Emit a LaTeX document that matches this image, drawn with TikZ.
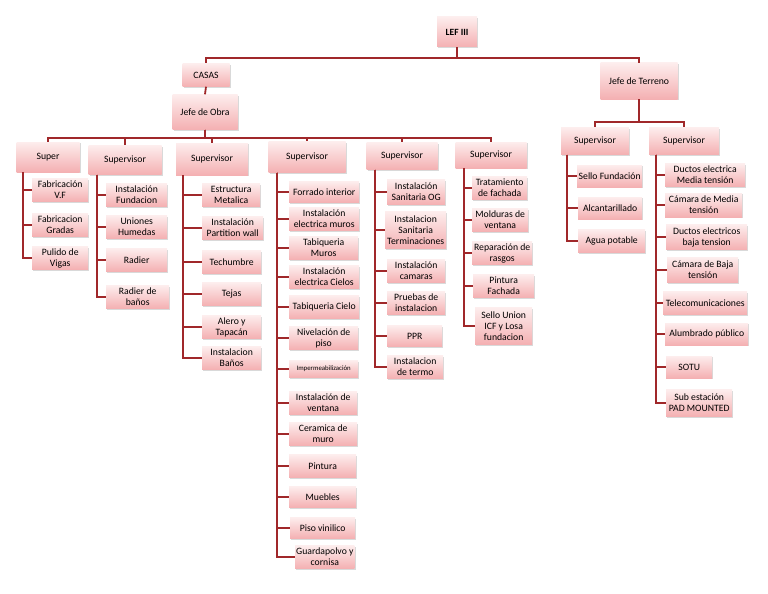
\documentclass[tikz,border=0pt]{standalone}
\usepackage{fontspec}
\setmainfont{Carlito}
\usetikzlibrary{shadows}
\definecolor{linkred}{RGB}{160,40,42}
\definecolor{boxtop}{RGB}{253,237,237}
\definecolor{boxbot}{RGB}{244,176,178}
\tikzset{
  box/.style={rectangle, top color=boxtop, bottom color=boxbot, align=center,
    font=\fontsize{9.7}{11}\selectfont, text=black, inner sep=1pt, minimum height=23,
    drop shadow={shadow xshift=1.2pt, shadow yshift=-1.2pt, opacity=0.3}},
  item/.style={box, anchor=west},
  conn/.style={draw=linkred, line width=1.8pt},
}
\begin{document}
\begin{tikzpicture}[x=1pt,y=-1pt]
  \useasboundingbox (0,0) rectangle (768,594);
  % top of the tree
  \node[box, minimum width=40, minimum height=30, font=\bfseries\fontsize{9.5}{11}\selectfont] (lef) at (457,32) {LEF III};
  \node[box, minimum width=47] (casas) at (206,75) {CASAS};
  \node[box, minimum width=65, minimum height=35] (obra) at (205,112) {Jefe de Obra};
  \node[box, minimum width=77, minimum height=36] (terreno) at (639,81) {Jefe de Terreno};
  % supervisors
  \node[box, minimum width=63, minimum height=30] (sup1) at (48,157) {Super};
  \node[box, minimum width=73, minimum height=29] (sup2) at (125,160) {Supervisor};
  \node[box, minimum width=72, minimum height=32] (sup3) at (212,159) {Supervisor};
  \node[box, minimum width=77, minimum height=31] (sup4) at (307,157) {Supervisor};
  \node[box, minimum width=71, minimum height=27] (sup5) at (402,156) {Supervisor};
  \node[box, minimum width=71, minimum height=26] (sup6) at (491,155) {Supervisor};
  \node[box, minimum width=68, minimum height=27] (sup7) at (595,141) {Supervisor};
  \node[box, minimum width=70, minimum height=27] (sup8) at (684,141) {Supervisor};
  % column 1
  \node[item, minimum width=56] (c11) at (32,190) {Fabricación\\V.F};
  \node[item, minimum width=56] (c12) at (32,225) {Fabricacion\\Gradas};
  \node[item, minimum width=56] (c13) at (32,258) {Pulido de\\Vigas};
  % column 2
  \node[item, minimum width=61] (c21) at (106,195) {Instalación\\Fundacion};
  \node[item, minimum width=61] (c22) at (106,227) {Uniones\\Humedas};
  \node[item, minimum width=61] (c23) at (106,260) {Radier};
  \node[item, minimum width=63] (c24) at (106,297) {Radier de\\baños};
  % column 3
  \node[item, minimum width=58] (c31) at (202,195) {Estructura\\Metalica};
  \node[item, minimum width=61] (c32) at (202,228) {Instalación\\Partition wall};
  \node[item, minimum width=59] (c33) at (202,262) {Techumbre};
  \node[item, minimum width=59] (c34) at (202,294) {Tejas};
  \node[item, minimum width=59] (c35) at (202,327) {Alero y\\Tapacán};
  \node[item, minimum width=59] (c36) at (202,358) {Instalacion\\Baños};
  % column 4
  \node[item, minimum width=70, minimum height=21] (c41) at (289,192) {Forrado interior};
  \node[item, minimum width=70] (c42) at (289,219) {Instalación\\electrica muros};
  \node[item, minimum width=69] (c43) at (289,248) {Tabiqueria\\Muros};
  \node[item, minimum width=70] (c44) at (289,277) {Instalación\\electrica Cielos};
  \node[item, minimum width=70] (c45) at (289,307) {Tabiqueria Cielo};
  \node[item, minimum width=69] (c46) at (289,338) {Nivelación de\\piso};
  \node[item, minimum width=69, minimum height=17, font=\fontsize{6.8}{8}\selectfont] (c47) at (289,369) {Impermeabilización};
  \node[item, minimum width=68] (c48) at (289,403) {Instalación de\\ventana};
  \node[item, minimum width=68] (c49) at (289,434) {Ceramica de\\muro};
  \node[item, minimum width=67] (c410) at (289,466) {Pintura};
  \node[item, minimum width=67, minimum height=21] (c411) at (289,497) {Muebles};
  \node[item, minimum width=65, minimum height=21] (c412) at (290,528) {Piso vinilico};
  \node[item, minimum width=59] (c413) at (295,557) {Guardapolvo y\\cornisa};
  % column 5
  \node[item, minimum width=58, minimum height=25] (c51) at (387,192) {Instalación\\Sanitaria OG};
  \node[item, minimum width=61, minimum height=37] (c52) at (385,230) {Instalacion\\Sanitaria\\Terminaciones};
  \node[item, minimum width=58] (c53) at (387,271) {Instalación\\camaras};
  \node[item, minimum width=58] (c54) at (387,303) {Pruebas de\\instalacion};
  \node[item, minimum width=55, minimum height=21] (c55) at (387,336) {PPR};
  \node[item, minimum width=56] (c56) at (387,367) {Instalacion\\de termo};
  % column 6
  \node[item, minimum width=55] (c61) at (472,188) {Tratamiento\\de fachada};
  \node[item, minimum width=56] (c62) at (472,220) {Molduras de\\ventana};
  \node[item, minimum width=60] (c63) at (472,253) {Reparación de\\rasgos};
  \node[item, minimum width=61] (c64) at (473,286) {Pintura\\Fachada};
  \node[item, minimum width=57, minimum height=37] (c65) at (475,326) {Sello Union\\ICF y Losa\\fundacion};
  % column 7
  \node[item, minimum width=65, minimum height=22] (c71) at (577,176) {Sello Fundación};
  \node[item, minimum width=64, minimum height=22] (c72) at (578,208) {Alcantarillado};
  \node[item, minimum width=67] (c73) at (578,241) {Agua potable};
  % column 8
  \node[item, minimum width=80] (c81) at (665,175) {Ductos electrica\\Media tensión};
  \node[item, minimum width=77, minimum height=24] (c82) at (665,205) {Cámara de Media\\tensión};
  \node[item, minimum width=81, minimum height=25] (c83) at (666,237) {Ductos electricos\\baja tension};
  \node[item, minimum width=71, minimum height=25] (c84) at (667,270) {Cámara de Baja\\tensión};
  \node[item, minimum width=84] (c85) at (663,303) {Telecomunicaciones};
  \node[item, minimum width=83, minimum height=22] (c86) at (665,334) {Alumbrado público};
  \node[item, minimum width=46, minimum height=22] (c87) at (666,367) {SOTU};
  \node[item, minimum width=66, minimum height=27] (c88) at (666,403) {Sub estación\\PAD MOUNTED};
  % connectors
  \draw[conn] (lef.south) -- ++(0,11) -| (casas.north);
  \draw[conn] (lef.south) -- ++(0,11) -| (terreno.north);
  \draw[conn] (casas.south) -- (obra.north);
  \foreach \s in {sup1,sup2,sup3,sup4,sup5,sup6}
    \draw[conn] (obra.south) -- ++(0,8) -| (\s.north);
  \foreach \s in {sup7,sup8}
    \draw[conn] (terreno.south) -- ++(0,23) -| (\s.north);
  \foreach \i in {1,2,3} \draw[conn] ([xshift=7pt]sup1.south west) |- (c1\i.west);
  \foreach \i in {1,...,4} \draw[conn] ([xshift=9pt]sup2.south west) |- (c2\i.west);
  \foreach \i in {1,...,6} \draw[conn] ([xshift=7pt]sup3.south west) |- (c3\i.west);
  \foreach \i in {1,...,13} \draw[conn] ([xshift=8.5pt]sup4.south west) |- (c4\i.west);
  \foreach \i in {1,...,6} \draw[conn] ([xshift=8.5pt]sup5.south west) |- (c5\i.west);
  \foreach \i in {1,...,5} \draw[conn] ([xshift=8.5pt]sup6.south west) |- (c6\i.west);
  \foreach \i in {1,2,3} \draw[conn] ([xshift=6pt]sup7.south west) |- (c7\i.west);
  \foreach \i in {1,...,8} \draw[conn] ([xshift=7pt]sup8.south west) |- (c8\i.west);
\end{tikzpicture}
\end{document}
